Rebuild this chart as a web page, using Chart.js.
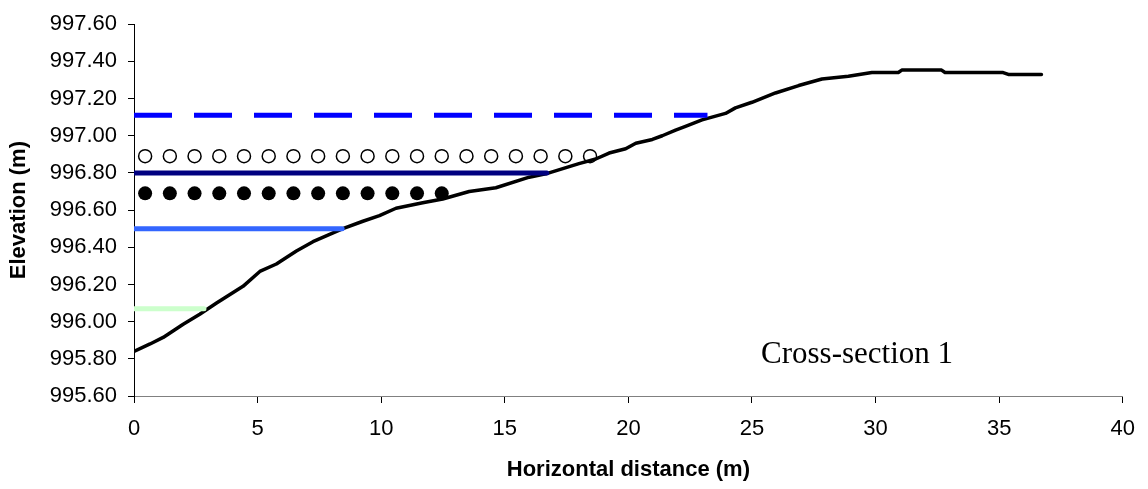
<!DOCTYPE html>
<html>
<head>
<meta charset="utf-8">
<script src="https://cdn.jsdelivr.net/npm/chart.js@4"></script>
<style>
  html, body { margin: 0; padding: 0; background: #ffffff; }
  #chart { display: block; }
</style>
</head>
<body>
<canvas id="chart" width="1148" height="489"></canvas>
<script>
// ===========================
// Data
// ===========================

const groundX = [0, 0.65, 1.18, 1.99, 2.66, 3.34, 4.41, 5.09, 5.76, 6.57, 7.24, 8.45, 9.26, 9.93,
  10.6, 11.68, 12.49, 13.56, 14.64, 15.99, 16.66, 18.0, 18.68, 19.22, 19.89, 20.3, 20.97, 21.37,
  21.91, 22.31, 22.98, 23.93, 24.33, 25.0, 25.95, 26.89, 27.83, 28.9, 29.85, 30.92, 31.06, 32.67,
  32.81, 35.16, 35.37, 36.71];
const groundY = [995.84, 995.88, 995.915, 995.986, 996.04, 996.10, 996.19, 996.27, 996.31, 996.38,
  996.43, 996.50, 996.54, 996.57, 996.61, 996.64, 996.66, 996.70, 996.72, 996.777, 996.795, 996.85,
  996.875, 996.907, 996.93, 996.96, 996.98, 997.00, 997.03, 997.05, 997.085, 997.12, 997.15, 997.18,
  997.23, 997.27, 997.305, 997.32, 997.34, 997.34, 997.353, 997.353, 997.34, 997.34, 997.33, 997.33];

// water levels: [elevation, end distance]
const levelDashed = [997.11, 23.2];
const levelNavy = [996.80, 16.7];
const levelBlue = [996.50, 8.42];
const levelGreen = [996.07, 2.83];

const openCircleX = [0.45, 1.45, 2.45, 3.45, 4.45, 5.45, 6.45, 7.45, 8.45, 9.45, 10.45, 11.45,
  12.45, 13.45, 14.45, 15.45, 16.45, 17.45, 18.45];
const openCircleY = 996.89;
const filledCircleX = [0.45, 1.45, 2.45, 3.45, 4.45, 5.45, 6.45, 7.45, 8.45, 9.45, 10.45, 11.45, 12.45];
const filledCircleY = 996.69;

const xTicks = [0, 5, 10, 15, 20, 25, 30, 35, 40];
const yTicks = [995.6, 995.8, 996.0, 996.2, 996.4, 996.6, 996.8, 997.0, 997.2, 997.4, 997.6];

// ===========================
// Build datasets
// ===========================

function level(l) {
  return [{ x: 0, y: l[0] }, { x: l[1], y: l[0] }];
}

const ground = groundX.map((x, i) => ({ x: x, y: groundY[i] }));
const openPts = openCircleX.map((x) => ({ x: x, y: openCircleY }));
const filledPts = filledCircleX.map((x) => ({ x: x, y: filledCircleY }));

const labelPlugin = {
  id: "sectionLabel",
  afterDraw(chart) {
    const ctx = chart.ctx;
    ctx.save();
    ctx.fillStyle = "#000000";
    ctx.font = '31px "Liberation Serif", "Times New Roman", serif';
    ctx.textBaseline = "alphabetic";
    ctx.textAlign = "left";
    ctx.fillText("Cross-section 1", 761, 363);
    ctx.restore();
  },
};

const tickFont = { family: '"Liberation Sans", Arial, sans-serif', size: 22 };
const titleFont = { family: '"Liberation Sans", Arial, sans-serif', size: 22, weight: "bold" };

new Chart(document.getElementById("chart").getContext("2d"), {
  type: "scatter",
  data: {
    datasets: [
      {
        data: level(levelGreen),
        showLine: true,
        borderColor: "#ccffcc",
        borderWidth: 5,
        borderCapStyle: "round",
        pointRadius: 0,
      },
      {
        data: level(levelBlue),
        showLine: true,
        borderColor: "#3366ff",
        borderWidth: 5,
        borderCapStyle: "round",
        pointRadius: 0,
      },
      {
        data: level(levelNavy),
        showLine: true,
        borderColor: "#000080",
        borderWidth: 5,
        borderCapStyle: "round",
        pointRadius: 0,
      },
      {
        data: level(levelDashed),
        showLine: true,
        borderColor: "#0000ff",
        borderWidth: 5,
        borderDash: [38, 22],
        pointRadius: 0,
      },
      {
        data: ground,
        showLine: true,
        borderColor: "#000000",
        borderWidth: 3.5,
        borderCapStyle: "round",
        borderJoinStyle: "round",
        pointRadius: 0,
      },
      {
        data: openPts,
        showLine: false,
        pointRadius: 6.5,
        pointBackgroundColor: "#ffffff",
        pointBorderColor: "#000000",
        pointBorderWidth: 1.5,
      },
      {
        data: filledPts,
        showLine: false,
        pointRadius: 7,
        pointBackgroundColor: "#000000",
        pointBorderColor: "#000000",
        pointBorderWidth: 0,
      },
    ],
  },
  options: {
    responsive: false,
    animation: false,
    devicePixelRatio: 1,
    layout: { padding: { top: 21, right: 23, left: 0, bottom: 0 } },
    plugins: {
      legend: { display: false },
      tooltip: { enabled: false },
    },
    scales: {
      x: {
        type: "linear",
        min: 0,
        max: 40,
        afterBuildTicks: (scale) => {
          scale.ticks = xTicks.map((v) => ({ value: v }));
        },
        afterFit: (scale) => {
          scale.height = 93;
        },
        ticks: {
          font: tickFont,
          color: "#000000",
          padding: 13,
          maxRotation: 0,
        },
        grid: {
          drawOnChartArea: false,
          drawTicks: true,
          tickLength: 7,
          color: "#000000",
        },
        border: { color: "#808080", width: 1 },
        title: {
          display: true,
          text: "Horizontal distance (m)",
          font: titleFont,
          color: "#000000",
          padding: { top: 0, bottom: 6 },
        },
      },
      y: {
        type: "linear",
        min: 995.6,
        max: 997.6,
        afterBuildTicks: (scale) => {
          scale.ticks = yTicks.map((v) => ({ value: v }));
        },
        afterFit: (scale) => {
          scale.width = 134;
        },
        ticks: {
          font: tickFont,
          color: "#000000",
          padding: 11,
          callback: (v) => Number(v).toFixed(2),
        },
        grid: {
          drawOnChartArea: false,
          drawTicks: true,
          tickLength: 6,
          color: "#000000",
        },
        border: { color: "#000000", width: 1 },
        title: {
          display: true,
          text: "Elevation (m)",
          font: titleFont,
          color: "#000000",
          padding: { top: 6, bottom: 0 },
        },
      },
    },
  },
  plugins: [labelPlugin],
});
</script>
</body>
</html>
